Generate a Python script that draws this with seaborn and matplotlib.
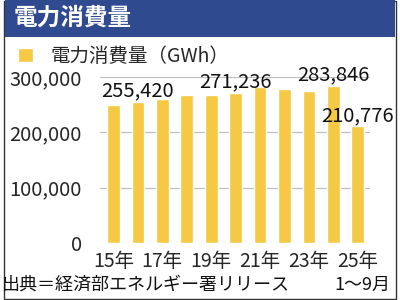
import matplotlib
matplotlib.use("Agg")
import matplotlib.pyplot as plt
import seaborn as sns
import pandas as pd
from matplotlib.patches import Rectangle

years = ["15年", "16年", "17年", "18年", "19年", "20年", "21年", "22年", "23年", "24年", "25年"]
values = [250200, 255420, 261000, 267000, 267000, 271236, 282100, 279000, 274900, 283846, 210776]
labeled = {1: "255,420", 5: "271,236", 9: "283,846", 10: "210,776"}
tick_years = ["15年", "17年", "19年", "21年", "23年", "25年"]

title = "電力消費量"
legend_label = "電力消費量（GWh）"
source = "出典＝経済部エネルギー署リリース"
note = "1〜9月"

sns.set_theme(style="white")
plt.rcParams['font.family'] = ['Noto Sans CJK JP', 'DejaVu Sans']

BLUE = "#2f4a8e"
YELLOW = "#f5c944"

fig = plt.figure(figsize=(4, 3), dpi=100)
fig.patch.set_facecolor("white")

# border and title band
fig.add_artist(Rectangle((0.011, 0.003), 0.978, 0.994, transform=fig.transFigure,
                         facecolor="none", edgecolor="#333333", lw=1.0))
fig.add_artist(Rectangle((0.0125, 0.877), 0.975, 0.123, transform=fig.transFigure,
                         facecolor=BLUE, edgecolor="none"))
fig.text(0.033, 0.94, title, color="white", fontsize=17, fontweight="bold",
         va="center", ha="left")

ax = fig.add_axes([0.25, 0.19, 0.675, 0.5533])
ax.patch.set_alpha(0)
df = pd.DataFrame({"year": years, "value": values})
sns.barplot(data=df, x="year", y="value", color=YELLOW, saturation=1, width=0.52,
            ax=ax, label=legend_label)

ax.set_ylim(0, 300000)
ax.set_xlim(-0.55, 10.5)
ax.set_yticks([0, 100000, 200000, 300000])
ax.set_yticklabels(["0", "100,000", "200,000", "300,000"], fontsize=14.5)
ax.set_xticks([0, 2, 4, 6, 8, 10])
ax.set_xticklabels(tick_years, fontsize=14)
ax.tick_params(axis="both", length=0)
ax.tick_params(axis="x", pad=6)
ax.tick_params(axis="y", pad=13)
ax.set_xlabel("")
ax.set_ylabel("")
for s in ax.spines.values():
    s.set_visible(False)
ax.yaxis.grid(True, color="#bbbbbb", lw=0.8)
ax.set_axisbelow(True)

for i, txt in labeled.items():
    ax.text(i, values[i] + 500, txt, ha="center", va="bottom", fontsize=14.5,
            color="#111111", clip_on=False)

leg = ax.legend(loc="center left", bbox_to_anchor=(0.045, 0.812), bbox_transform=fig.transFigure,
                frameon=False, fontsize=14, handlelength=0.75, handleheight=0.75,
                handletextpad=0.9, borderaxespad=0, borderpad=0)

fig.text(0.006, 0.05, source, fontsize=13, ha="left", va="center", color="#111111")
fig.text(0.975, 0.05, note, fontsize=13, ha="right", va="center", color="#111111")

fig.savefig("out.png", dpi=100, facecolor="white")
